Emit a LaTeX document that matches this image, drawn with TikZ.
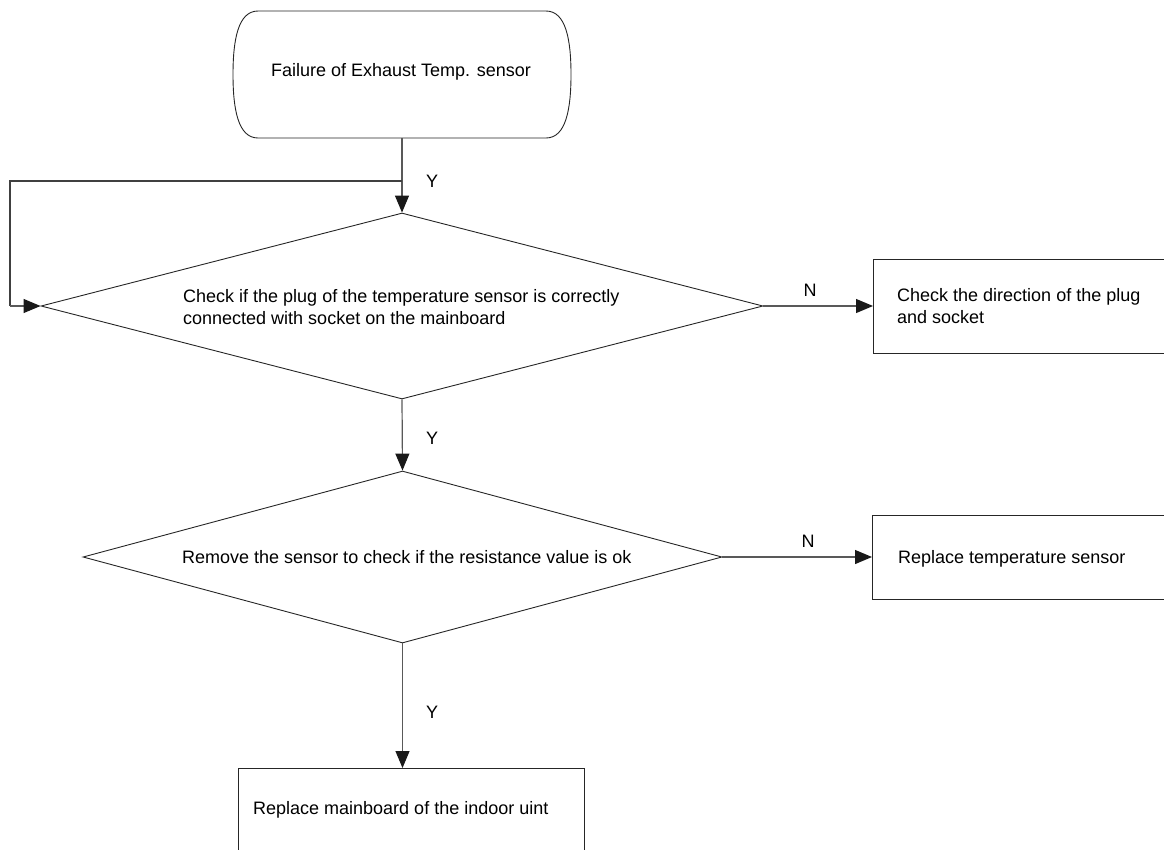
\documentclass[tikz,border=0pt]{standalone}
\usepackage{fontspec}
\setmainfont{Liberation Sans}
\usetikzlibrary{arrows.meta,shapes.geometric}
\begin{document}
\begin{tikzpicture}[x=1pt,y=-1pt,
  every node/.style={font=\fontsize{18}{22.5}\selectfont},
  shapeline/.style={draw=black!85,line width=0.9pt},
  conn/.style={draw=black!65,line width=1.2pt,-{Triangle[length=17pt,width=14pt,color=black!90]}},
  plain/.style={draw=black!75,line width=1.1pt},
  dec/.style={diamond,shapeline,inner sep=0pt},
  boxnode/.style={rectangle,shapeline,inner sep=0pt},
  lbl/.style={inner sep=0pt}]
\useasboundingbox (0,0) rectangle (1164,849);
\clip (0,0) rectangle (1164,849);
% start
\node (start) [minimum width=338pt,minimum height=127pt,inner sep=0pt] at (402,74.5) {};
\draw[shapeline] (258,11) -- (546,11) .. controls (566,11) and (571,40) .. (571,74.5)
  .. controls (571,109) and (566,138) .. (546,138) -- (258,138)
  .. controls (238,138) and (233,109) .. (233,74.5)
  .. controls (233,40) and (238,11) .. (258,11);
\node[lbl] at (401,72) {Failure of Exhaust Temp. sensor};
% decision 1
\node (d1) [dec,minimum width=722pt,minimum height=186pt] at (402,306) {};
\node[lbl,anchor=west,align=left] at (183,307) {Check if the plug of the temperature sensor is correctly\\connected with socket on the mainboard};
% box 1
\node (b1) [boxnode,minimum width=400pt,minimum height=94pt,anchor=north west] at (873,259) {};
\node[lbl,anchor=west,align=left] at (897,306) {Check the direction of the plug\\and socket};
% decision 2
\node (d2) [dec,minimum width=639pt,minimum height=172pt] at (402.5,557) {};
\node[lbl,anchor=west] at (182,557) {Remove the sensor to check if the resistance value is ok};
% box 2
\node (b2) [boxnode,minimum width=400pt,minimum height=84pt,anchor=north west] at (872,515) {};
\node[lbl,anchor=west] at (898,559) {Replace temperature sensor};
% box 3
\node (b3) [boxnode,minimum width=346pt,minimum height=140pt,anchor=north west] at (238,768) {};
\node[lbl,anchor=west] at (253,810) {Replace mainboard of the indoor uint};
% connectors
\coordinate (j) at (402,181);
\coordinate (lt) at (10,181);
\coordinate (lb) at (10,306);
\draw[conn] (start.south) -- (d1.north);
\draw[plain] (j) -- (lt) -- (lb);
\draw[conn] (lb) -- (d1.west);
\draw[conn] (d1.east) -- (b1.west |- d1.east);
\draw[conn] (d1.south) -- (d2.north);
\draw[conn] (d2.east) -- (b2.west |- d2.east);
\draw[conn] (d2.south) -- (b3.north -| d2.south);
% labels
\node[lbl] at (432,181) {Y};
\node[lbl] at (810,290) {N};
\node[lbl] at (432,438) {Y};
\node[lbl] at (808,541) {N};
\node[lbl] at (432,712) {Y};
\end{tikzpicture}
\end{document}
